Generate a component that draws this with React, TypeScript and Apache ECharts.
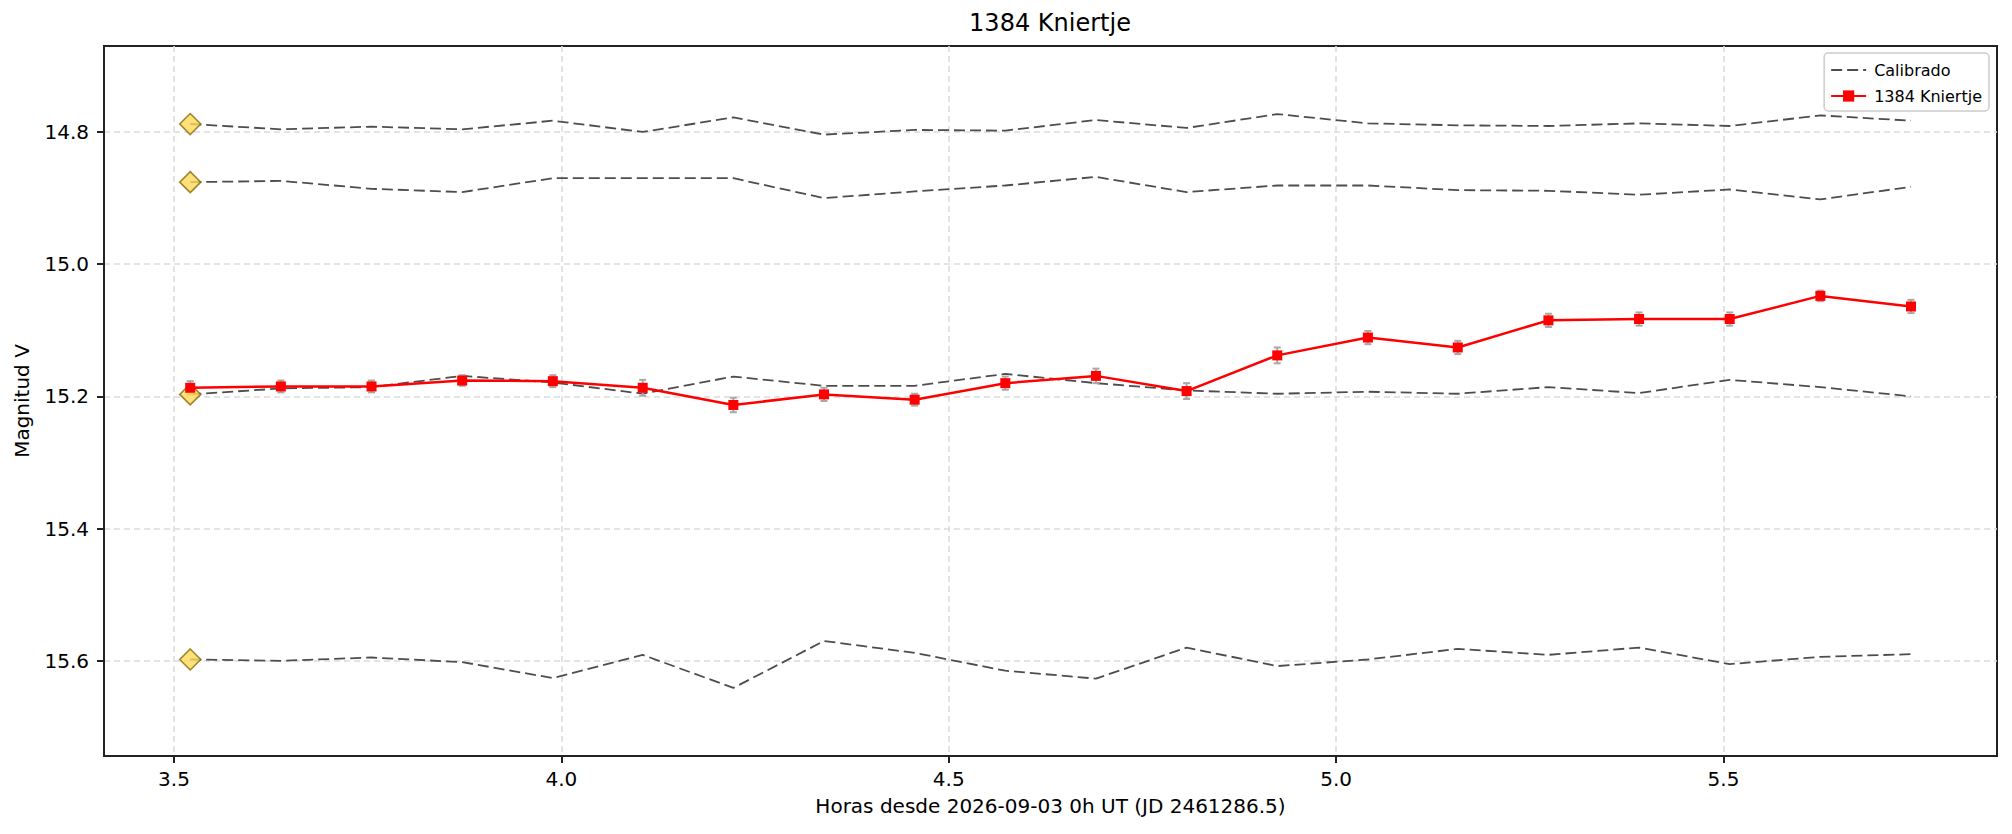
import React, { useEffect, useRef } from 'react';
import * as echarts from 'echarts';

// horas desde 2026-09-03 0h UT
const times = [3.521, 3.638, 3.755, 3.872, 3.989, 4.105, 4.222, 4.339, 4.456, 4.573, 4.690, 4.807, 4.924, 5.041, 5.157, 5.274, 5.391, 5.508, 5.625, 5.742];

// estrellas de comparacion (calibradas)
const comp1 = [14.788, 14.796, 14.792, 14.796, 14.783, 14.800, 14.778, 14.804, 14.797, 14.798, 14.782, 14.794, 14.773, 14.787, 14.790, 14.791, 14.787, 14.791, 14.775, 14.783];
const comp2 = [14.876, 14.874, 14.886, 14.891, 14.870, 14.870, 14.870, 14.900, 14.890, 14.881, 14.868, 14.891, 14.881, 14.881, 14.888, 14.889, 14.895, 14.887, 14.902, 14.883];
const comp3 = [15.197, 15.188, 15.186, 15.169, 15.179, 15.196, 15.170, 15.184, 15.184, 15.166, 15.180, 15.191, 15.196, 15.193, 15.196, 15.186, 15.195, 15.175, 15.186, 15.200];
const comp4 = [15.598, 15.600, 15.595, 15.602, 15.626, 15.591, 15.641, 15.570, 15.588, 15.615, 15.627, 15.580, 15.608, 15.598, 15.582, 15.591, 15.580, 15.605, 15.594, 15.590];

// asteroide
const targetMag = [15.187, 15.185, 15.185, 15.176, 15.177, 15.187, 15.213, 15.197, 15.205, 15.180, 15.169, 15.192, 15.138, 15.111, 15.126, 15.085, 15.083, 15.083, 15.048, 15.064];
const targetErr = [0.010, 0.009, 0.009, 0.008, 0.009, 0.012, 0.011, 0.010, 0.009, 0.010, 0.011, 0.012, 0.012, 0.010, 0.010, 0.010, 0.010, 0.010, 0.008, 0.010];

const xTicks = [3.5, 4.0, 4.5, 5.0, 5.5];
const yTicks = [14.8, 15.0, 15.2, 15.4, 15.6];

const FONT = 'DejaVu Sans';
const SPINE = '#222222';

const App: React.FC = () => {
  const chartRef = useRef<HTMLDivElement>(null);

  useEffect(() => {
    if (!chartRef.current) return;
    const chart = echarts.init(chartRef.current, undefined, { renderer: 'svg' });

    const comps = [comp1, comp2, comp3, comp4];
    const compSeries = comps.map((c) => ({
      name: 'Calibrado',
      type: 'line',
      data: times.map((t, i) => [t, c[i]]),
      symbol: 'none',
      z: 2,
      lineStyle: { color: '#4d4d4d', width: 1.8, type: [11, 5] },
      itemStyle: { color: '#4d4d4d' },
    }));

    const option = {
      animation: false,
      backgroundColor: '#ffffff',
      title: {
        text: '1384 Kniertje',
        left: 1050,
        top: 11,
        padding: 0,
        textAlign: 'center',
        textStyle: { fontFamily: FONT, fontSize: 24, fontWeight: 'normal', color: '#000' },
      },
      legend: {
        data: [
          { name: 'Calibrado', itemStyle: { opacity: 0 } },
          { name: '1384 Kniertje' },
        ],
        orient: 'vertical',
        right: 23,
        top: 53,
        padding: [9, 7, 7, 6],
        itemWidth: 35,
        itemHeight: 14,
        itemGap: 10,
        backgroundColor: 'rgba(255,255,255,0.85)',
        borderColor: '#cccccc',
        borderWidth: 1.5,
        borderRadius: 4,
        textStyle: { fontFamily: FONT, fontSize: 16, color: '#000', padding: [0, 0, 0, 3] },
      },
      grid: {
        left: 104,
        top: 46,
        width: 1893,
        height: 710,
        show: true,
        borderColor: SPINE,
        borderWidth: 2,
        backgroundColor: 'transparent',
      },
      xAxis: {
        type: 'value',
        min: 3.4097,
        max: 5.853,
        name: 'Horas desde 2026-09-03 0h UT (JD 2461286.5)',
        nameLocation: 'middle',
        nameGap: 40,
        nameTextStyle: { fontFamily: FONT, fontSize: 20, color: '#000' },
        axisLine: { show: true, lineStyle: { color: SPINE, width: 2 } },
        axisTick: { show: true, length: 7, lineStyle: { color: SPINE, width: 2 }, customValues: xTicks },
        axisLabel: {
          fontFamily: FONT,
          fontSize: 20,
          color: '#000',
          margin: 13,
          customValues: xTicks,
          formatter: (v: number) => v.toFixed(1),
        },
        splitLine: {
          show: true,
          lineStyle: { color: '#dcdcdc', width: 1.6, type: [6, 4] },
        },
      },
      yAxis: {
        type: 'value',
        inverse: true,
        min: 14.67,
        max: 15.744,
        name: 'Magnitud V',
        nameLocation: 'middle',
        nameGap: 72,
        nameTextStyle: { fontFamily: FONT, fontSize: 20, color: '#000' },
        axisLine: { show: true, lineStyle: { color: SPINE, width: 2 } },
        axisTick: { show: true, length: 7, lineStyle: { color: SPINE, width: 2 }, customValues: yTicks },
        axisLabel: {
          fontFamily: FONT,
          fontSize: 20,
          color: '#000',
          margin: 15,
          customValues: yTicks,
          formatter: (v: number) => v.toFixed(1),
        },
        splitLine: {
          show: true,
          lineStyle: { color: '#dcdcdc', width: 1.6, type: [6, 4] },
        },
      },
      series: [
        ...compSeries,
        {
          name: 'Referencia',
          type: 'scatter',
          data: comps.map((c) => [times[0], c[0]]),
          symbol: 'diamond',
          symbolSize: 21,
          z: 4,
          itemStyle: { color: '#ffd95a', borderColor: '#866a06', borderWidth: 1.6 },
        },
        {
          name: 'errores',
          type: 'custom',
          z: 3,
          data: times.map((t, i) => [t, targetMag[i] - targetErr[i], targetMag[i] + targetErr[i]]),
          encode: { x: 0, y: [1, 2] },
          renderItem: (_params: any, api: any) => {
            const x = api.value(0);
            const p1 = api.coord([x, api.value(1)]);
            const p2 = api.coord([x, api.value(2)]);
            const w = 3.5;
            const style = { stroke: '#a8a8a8', lineWidth: 2 };
            return {
              type: 'group',
              children: [
                { type: 'line', shape: { x1: p1[0], y1: p1[1], x2: p2[0], y2: p2[1] }, style },
                { type: 'line', shape: { x1: p1[0] - w, y1: p1[1], x2: p1[0] + w, y2: p1[1] }, style },
                { type: 'line', shape: { x1: p2[0] - w, y1: p2[1], x2: p2[0] + w, y2: p2[1] }, style },
              ],
            };
          },
        },
        {
          name: '1384 Kniertje',
          type: 'line',
          data: times.map((t, i) => [t, targetMag[i]]),
          symbol: 'rect',
          symbolSize: 10,
          z: 5,
          lineStyle: { color: '#ff0000', width: 2.5 },
          itemStyle: { color: '#ff0000' },
        },
      ],
    };

    chart.setOption(option as any);

    return () => {
      chart.dispose();
    };
  }, []);

  return (
    <div
      ref={chartRef}
      style={{ position: 'fixed', left: 0, top: 0, width: 2012, height: 834, background: '#fff' }}
    ></div>
  );
};

export default App;
